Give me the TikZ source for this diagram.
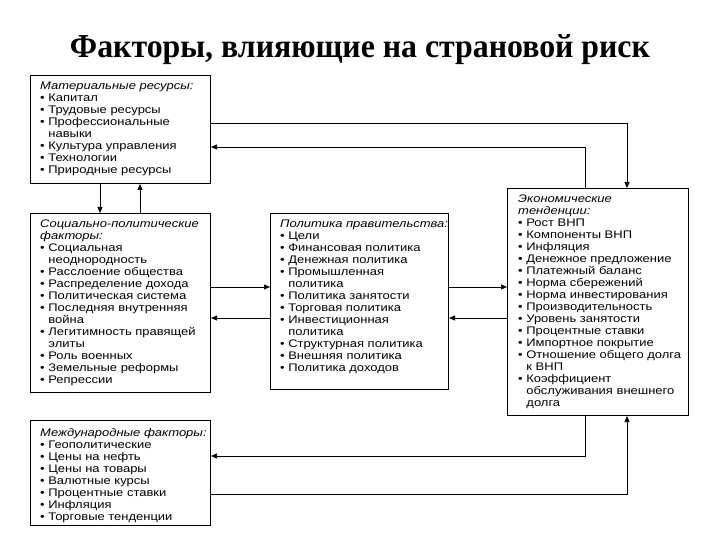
\documentclass[tikz,border=0pt]{standalone}
\usepackage{fontspec}
\setmainfont{Liberation Sans}
\newfontfamily\boxfont[FakeStretch=1.18]{Liberation Sans}
\newfontfamily\titlefont{Liberation Serif}
\usetikzlibrary{arrows.meta}
\newcommand{\bu}{\textbullet\ }
\newcommand{\ind}{\hspace*{0.75em}}
\begin{document}
\begin{tikzpicture}[x=1pt,y=-1pt,
  box/.style={draw,line width=1pt,rectangle,anchor=north west,inner sep=0pt},
  txt/.style={anchor=north west,align=left,font=\boxfont\fontsize{11}{12}\selectfont,inner sep=0pt},
  arr/.style={-{Triangle[length=6pt,width=5pt]},line width=0.7pt}]
\useasboundingbox (0,0) rectangle (720,540);
\node[inner sep=0pt] (title) at (360,50) {\resizebox{580pt}{23pt}{\titlefont\bfseries Факторы, влияющие на страновой риск}};
\node[box,minimum width=180pt,minimum height=108pt] (mat) at (30,75) {};
\node[box,minimum width=180pt,minimum height=179pt] (soc) at (30,213) {};
\node[box,minimum width=178pt,minimum height=176pt] (pol) at (270,213) {};
\node[box,minimum width=181pt,minimum height=227pt] (eco) at (507,188) {};
\node[box,minimum width=180pt,minimum height=105pt] (int) at (30,420) {};
\node[txt] (matt) at (40,82) {\textit{Материальные ресурсы:}\\\bu Капитал\\\bu Трудовые ресурсы\\\bu Профессиональные\\\ind навыки\\\bu Культура управления\\\bu Технологии\\\bu Природные ресурсы};
\node[txt] (soct) at (40,220) {\textit{Социально-политические}\\\textit{факторы:}\\\bu Социальная\\\ind неоднородность\\\bu Расслоение общества\\\bu Распределение дохода\\\bu Политическая система\\\bu Последняя внутренняя\\\ind война\\\bu Легитимность правящей\\\ind элиты\\\bu Роль военных\\\bu Земельные реформы\\\bu Репрессии};
\node[txt] (polt) at (280,220) {\textit{Политика правительства:}\\\bu Цели\\\bu Финансовая политика\\\bu Денежная политика\\\bu Промышленная\\\ind политика\\\bu Политика занятости\\\bu Торговая политика\\\bu Инвестиционная\\\ind политика\\\bu Структурная политика\\\bu Внешняя политика\\\bu Политика доходов};
\node[txt] (ecot) at (518,195) {\textit{Экономические}\\\textit{тенденции:}\\\bu Рост ВНП\\\bu Компоненты ВНП\\\bu Инфляция\\\bu Денежное предложение\\\bu Платежный баланс\\\bu Норма сбережений\\\bu Норма инвестирования\\\bu Производительность\\\bu Уровень занятости\\\bu Процентные ставки\\\bu Импортное покрытие\\\bu Отношение общего долга\\\ind к ВНП\\\bu Коэффициент\\\ind обслуживания внешнего\\\ind долга};
\node[txt] (intt) at (40,428) {\textit{Международные факторы:}\\\bu Геополитические\\\bu Цены на нефть\\\bu Цены на товары\\\bu Валютные курсы\\\bu Процентные ставки\\\bu Инфляция\\\bu Торговые тенденции};
% arrows
\draw[arr] (mat.east |- 0,123) -| (eco.north -| 627,0);
\draw[arr] (eco.north -| 585,0) |- (mat.east |- 0,147);
\draw[arr] (mat.south -| 100,0) -- (soc.north -| 100,0);
\draw[arr] (soc.north -| 140,0) -- (mat.south -| 140,0);
\draw[arr] (soc.east |- 0,287) -- (pol.west |- 0,287);
\draw[arr] (pol.east |- 0,287) -- (eco.west |- 0,287);
\draw[arr] (eco.west |- 0,318) -- (pol.east |- 0,318);
\draw[arr] (pol.west |- 0,318) -- (soc.east |- 0,318);
\draw[arr] (eco.south -| 585,0) |- (int.east |- 0,456);
\draw[arr] (int.east |- 0,494) -| (eco.south -| 627,0);
\end{tikzpicture}
\end{document}
